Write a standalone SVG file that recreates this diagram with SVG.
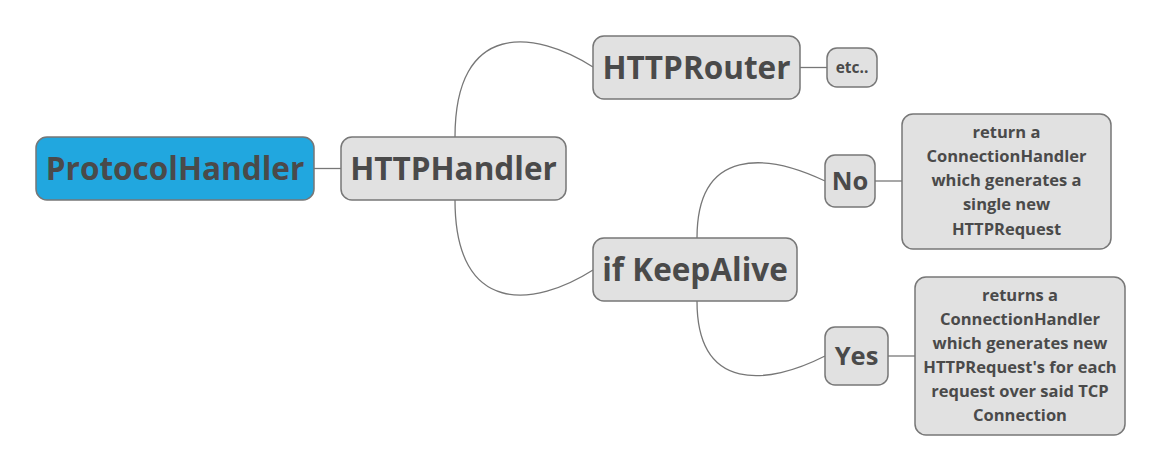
<svg xmlns="http://www.w3.org/2000/svg" width="1163" height="474" viewBox="0 0 1163 474">
<style>
.box{fill:#e1e1e1;stroke:#777;stroke-width:1.5}
.root{fill:#21a7df;stroke:#777;stroke-width:1.5}
text{font-family:"Open Sans","Noto Sans","Liberation Sans",sans-serif;font-weight:bold;fill:#4a4a4a;text-anchor:middle}
.l0{font-size:31.5px}
.l2{font-size:25.5px}
.sm{font-size:15.5px}
.tx{font-size:16.5px}
.c{fill:none;stroke:#777;stroke-width:1.3}
</style>
<rect width="1163" height="474" fill="#fff"/>
<g id="connectors">
<path class="c" d="M314,168.5 L341,168.5"/>
<path class="c" d="M455,137 C455,20 535,30 593,67"/>
<path class="c" d="M455,200 C455,317 535,307 593,270"/>
<path class="c" d="M800,67.5 L827,67.5"/>
<path class="c" d="M697,238 C697,146 768,154 825,181"/>
<path class="c" d="M697,301 C697,393 768,385 825,356"/>
<path class="c" d="M875,181 L902,181"/>
<path class="c" d="M888,356 L915,356"/>
</g>
<g id="ProtocolHandler">
<rect class="root" x="36" y="137" width="278" height="63" rx="11"/>
<text class="l0" x="175" y="179.5">ProtocolHandler</text>
</g>
<g id="HTTPHandler">
<rect class="box" x="341" y="137" width="225" height="63" rx="11"/>
<text class="l0" x="453.5" y="179.5">HTTPHandler</text>
</g>
<g id="HTTPRouter">
<rect class="box" x="593" y="36" width="207" height="63" rx="11"/>
<text class="l0" x="696.5" y="78.5">HTTPRouter</text>
</g>
<g id="etc">
<rect class="box" x="827" y="48" width="50" height="39" rx="10"/>
<text class="sm" x="852" y="73">etc..</text>
</g>
<g id="KeepAlive">
<rect class="box" x="593" y="238" width="204" height="63" rx="11"/>
<text class="l0" x="695" y="280.5">if KeepAlive</text>
</g>
<g id="No">
<rect class="box" x="825" y="155" width="50" height="52" rx="10"/>
<text class="l2" x="850" y="190">No</text>
</g>
<g id="Yes">
<rect class="box" x="825" y="327" width="63" height="58" rx="10"/>
<text class="l2" x="856.5" y="365">Yes</text>
</g>
<g id="NoResult">
<rect class="box" x="902" y="114" width="209" height="135" rx="11"/>
<text class="tx" x="1006.5" y="137.5">return a</text>
<text class="tx" x="1006.5" y="162">ConnectionHandler</text>
<text class="tx" x="1006.5" y="186">which generates a</text>
<text class="tx" x="1006.5" y="210">single new</text>
<text class="tx" x="1006.5" y="234.5">HTTPRequest</text>
</g>
<g id="YesResult">
<rect class="box" x="915" y="277" width="210" height="158" rx="11"/>
<text class="tx" x="1020" y="301">returns a</text>
<text class="tx" x="1020" y="325">ConnectionHandler</text>
<text class="tx" x="1020" y="349">which generates new</text>
<text class="tx" x="1020" y="373">HTTPRequest's for each</text>
<text class="tx" x="1020" y="397">request over said TCP</text>
<text class="tx" x="1020" y="421">Connection</text>
</g>
</svg>
